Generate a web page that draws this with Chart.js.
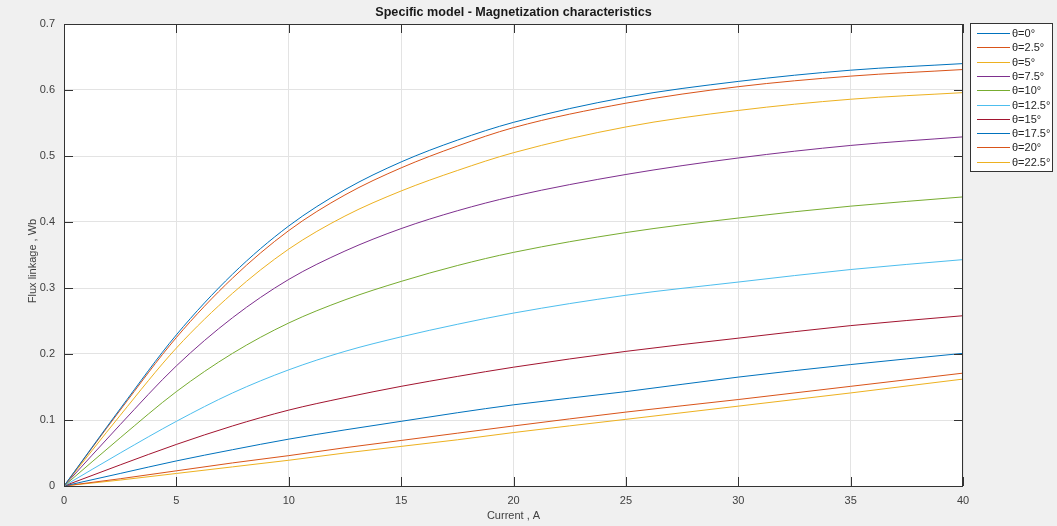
<!DOCTYPE html>
<html>
<head>
<meta charset="utf-8">
<script src="https://cdn.jsdelivr.net/npm/chart.js@4/dist/chart.umd.min.js"></script>
<style>
  html, body { margin: 0; padding: 0; background: #f0f0f0; }
  #wrap { width: 1057px; height: 526px; }
</style>
</head>
<body>
<div id="wrap"><canvas id="fluxChart" width="1057" height="526"></canvas></div>
<script>
// data
const current = [0, 2.5, 5, 7.5, 10, 12.5, 15, 17.5, 20, 25, 30, 35, 40];
const angleLabels = ['θ=0°', 'θ=2.5°', 'θ=5°', 'θ=7.5°', 'θ=10°', 'θ=12.5°', 'θ=15°', 'θ=17.5°', 'θ=20°', 'θ=22.5°'];

const flux0    = [0, 0.117, 0.229, 0.321, 0.394, 0.449, 0.491, 0.524, 0.551, 0.589, 0.613, 0.630, 0.640];
const flux2_5  = [0, 0.115, 0.225, 0.315, 0.387, 0.441, 0.482, 0.515, 0.543, 0.580, 0.605, 0.621, 0.631];
const flux5    = [0, 0.107, 0.209, 0.292, 0.359, 0.409, 0.447, 0.478, 0.505, 0.544, 0.569, 0.586, 0.596];
const flux7_5  = [0, 0.093, 0.182, 0.255, 0.313, 0.356, 0.390, 0.417, 0.439, 0.472, 0.497, 0.516, 0.529];
const flux10   = [0, 0.073, 0.143, 0.201, 0.247, 0.282, 0.310, 0.334, 0.354, 0.384, 0.406, 0.424, 0.438];
const flux12_5 = [0, 0.050, 0.098, 0.141, 0.176, 0.204, 0.226, 0.245, 0.262, 0.289, 0.309, 0.328, 0.343];
const flux15   = [0, 0.032, 0.063, 0.091, 0.115, 0.134, 0.151, 0.166, 0.180, 0.204, 0.224, 0.243, 0.258];
const flux17_5 = [0, 0.019, 0.038, 0.055, 0.071, 0.085, 0.098, 0.111, 0.123, 0.143, 0.165, 0.184, 0.201];
const flux20   = [0, 0.011, 0.023, 0.035, 0.046, 0.058, 0.069, 0.080, 0.091, 0.112, 0.131, 0.151, 0.171];
const flux22_5 = [0, 0.009, 0.019, 0.029, 0.039, 0.050, 0.060, 0.070, 0.081, 0.101, 0.121, 0.141, 0.162];

const xTicks = [0, 5, 10, 15, 20, 25, 30, 35, 40];
const yTicks = [0, 0.1, 0.2, 0.3, 0.4, 0.5, 0.6, 0.7];

const allFlux = [flux0, flux2_5, flux5, flux7_5, flux10, flux12_5, flux15, flux17_5, flux20, flux22_5];
const lineColors = ['#0072BD', '#D95319', '#EDB120', '#7E2F8E', '#77AC30', '#4DBEEE', '#A2142F'];

const FONT = '"Liberation Sans", Arial, Helvetica, sans-serif';
const TEXT = '#404040';
const AXIS = '#333333';

const datasets = allFlux.map((vals, i) => ({
    label: angleLabels[i],
    data: vals.map((v, j) => ({ x: current[j], y: v })),
    borderColor: lineColors[i % lineColors.length],
    borderWidth: 1,
    pointRadius: 0,
    fill: false,
    cubicInterpolationMode: 'monotone'
}));

// MATLAB-ish decorations: white axes, box, inward ticks, title, labels, legend
const matlabLook = {
    id: 'matlabLook',
    beforeDraw(chart) {
        const { ctx, chartArea: a } = chart;
        ctx.save();
        ctx.fillStyle = '#f0f0f0';
        ctx.fillRect(0, 0, chart.width, chart.height);
        ctx.fillStyle = '#ffffff';
        ctx.fillRect(a.left, a.top, a.right - a.left, a.bottom - a.top);
        ctx.restore();
    },
    afterDraw(chart) {
        const { ctx, chartArea: a, scales } = chart;
        ctx.save();

        // axes box
        ctx.strokeStyle = AXIS;
        ctx.lineWidth = 1;
        ctx.strokeRect(a.left + 0.5, a.top + 0.5, a.right - a.left - 1, a.bottom - a.top);

        // inward ticks on all four sides
        const tl = 9;
        ctx.beginPath();
        xTicks.forEach(t => {
            const px = Math.round(scales.x.getPixelForValue(t)) + 0.5;
            ctx.moveTo(px, a.bottom); ctx.lineTo(px, a.bottom - tl);
            ctx.moveTo(px, a.top); ctx.lineTo(px, a.top + tl);
        });
        yTicks.forEach(t => {
            const py = Math.round(scales.y.getPixelForValue(t)) + 0.5;
            ctx.moveTo(a.left, py); ctx.lineTo(a.left + tl, py);
            ctx.moveTo(a.right, py); ctx.lineTo(a.right - tl, py);
        });
        ctx.stroke();

        // title
        const cx = (a.left + a.right) / 2;
        ctx.fillStyle = '#1a1a1a';
        ctx.font = 'bold 12.6px ' + FONT;
        ctx.textAlign = 'center';
        ctx.textBaseline = 'middle';
        ctx.fillText('Specific model - Magnetization characteristics', cx, 13);

        // axis labels
        ctx.fillStyle = TEXT;
        ctx.font = '11px ' + FONT;
        ctx.fillText('Current , A', cx, 516);
        ctx.save();
        ctx.translate(33, (a.top + a.bottom) / 2 + 6);
        ctx.rotate(-Math.PI / 2);
        ctx.fillText('Flux linkage , Wb', 0, 0);
        ctx.restore();

        // legend box
        const lx = 970.5, ly = 23.5, lw = 82, rowH = 14.3;
        const lh = rowH * chart.data.datasets.length + 5;
        ctx.fillStyle = '#ffffff';
        ctx.fillRect(lx, ly, lw, lh);
        ctx.strokeStyle = '#333333';
        ctx.strokeRect(lx, ly, lw, lh);
        ctx.font = '11px ' + FONT;
        ctx.textAlign = 'left';
        chart.data.datasets.forEach((ds, i) => {
            const y = Math.round(ly + 9.5 + i * rowH) + 0.5;
            ctx.strokeStyle = ds.borderColor;
            ctx.beginPath();
            ctx.moveTo(977, y); ctx.lineTo(1010, y);
            ctx.stroke();
            ctx.fillStyle = '#262626';
            ctx.fillText(ds.label, 1012, y);
        });

        ctx.restore();
    }
};

const ctx = document.getElementById('fluxChart').getContext('2d');
const fluxChart = new Chart(ctx, {
    type: 'line',
    data: { datasets: datasets },
    options: {
        responsive: false,
        devicePixelRatio: 1,
        animation: false,
        layout: { padding: { left: 0, top: 24, right: 94, bottom: 0 } },
        plugins: {
            legend: { display: false },
            title: { display: false },
            tooltip: { enabled: false }
        },
        scales: {
            x: {
                type: 'linear',
                min: 0,
                max: 40,
                afterFit: s => { s.height = 40; },
                afterBuildTicks: s => { s.ticks = xTicks.map(v => ({ value: v })); },
                ticks: { color: TEXT, font: { family: FONT, size: 11 }, padding: 8 },
                grid: { color: '#e3e3e3', drawTicks: false },
                border: { display: false }
            },
            y: {
                min: 0,
                max: 0.7,
                afterFit: s => { s.width = 64; },
                afterBuildTicks: s => { s.ticks = yTicks.map(v => ({ value: v })); },
                ticks: {
                    color: TEXT,
                    font: { family: FONT, size: 11 },
                    padding: 9,
                    callback: v => (v === 0 ? '0' : v.toFixed(1))
                },
                grid: { color: '#e3e3e3', drawTicks: false },
                border: { display: false }
            }
        }
    },
    plugins: [matlabLook]
});
</script>
</body>
</html>
